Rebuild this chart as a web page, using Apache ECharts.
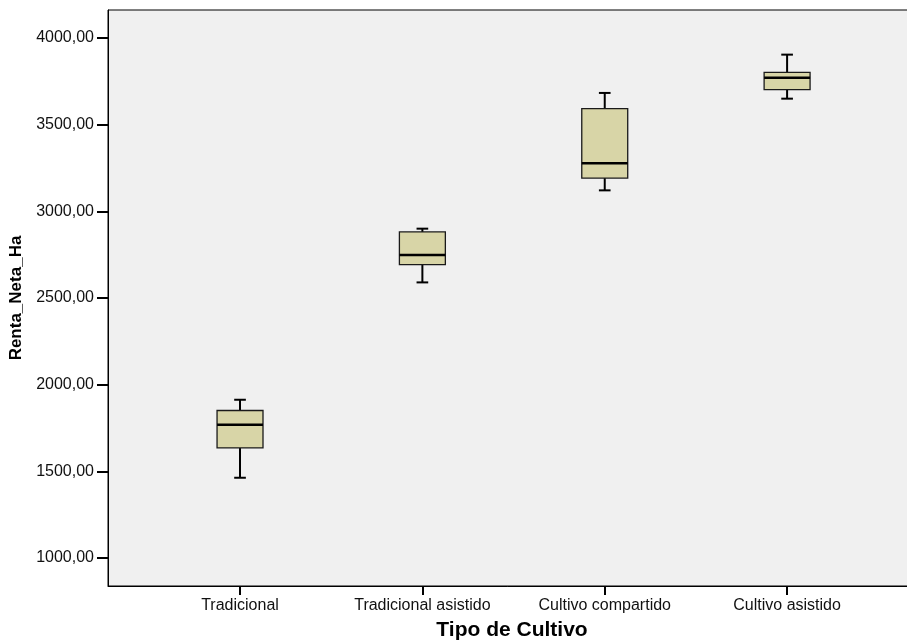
<!DOCTYPE html>
<html><head><meta charset="utf-8">
<script src="https://cdn.jsdelivr.net/npm/echarts@6/dist/echarts.min.js"></script>
<style>html,body{margin:0;padding:0;background:#fff}#c{width:907px;height:642px}</style>
</head><body><div id="c"></div>
<script>
const categories = ['Tradicional', 'Tradicional asistido', 'Cultivo compartido', 'Cultivo asistido'];
const xPositions = [1, 2, 3, 4];
const whiskerLow = [1463, 2590, 3121, 3650];
const q1 = [1635, 2692, 3192, 3702];
const median = [1769, 2748, 3277, 3771];
const q3 = [1851, 2881, 3592, 3802];
const whiskerHigh = [1913, 2900, 3683, 3904];
const yTicks = [1000, 1500, 2000, 2500, 3000, 3500, 4000];

const data = categories.map((c, i) => [xPositions[i], whiskerLow[i], q1[i], median[i], q3[i], whiskerHigh[i]]);

function renderItem(params, api) {
  const x = api.value(0);
  const pLow = api.coord([x, api.value(1)]);
  const pQ1 = api.coord([x, api.value(2)]);
  const pMed = api.coord([x, api.value(3)]);
  const pQ3 = api.coord([x, api.value(4)]);
  const pHigh = api.coord([x, api.value(5)]);
  const bw = api.size([0.252, 0])[0];
  const cw = api.size([0.064, 0])[0];
  const cx = pMed[0];
  const ls = { stroke: '#000', lineWidth: 2 };
  return {
    type: 'group',
    children: [
      { type: 'line', shape: { x1: cx, y1: pHigh[1], x2: cx, y2: pQ3[1] }, style: ls },
      { type: 'line', shape: { x1: cx, y1: pQ1[1], x2: cx, y2: pLow[1] }, style: ls },
      { type: 'line', shape: { x1: cx - cw / 2, y1: pHigh[1], x2: cx + cw / 2, y2: pHigh[1] }, style: ls },
      { type: 'line', shape: { x1: cx - cw / 2, y1: pLow[1], x2: cx + cw / 2, y2: pLow[1] }, style: ls },
      { type: 'rect', shape: { x: cx - bw / 2, y: pQ3[1], width: bw, height: pQ1[1] - pQ3[1] },
        style: { fill: '#D8D5A7', stroke: '#1a1a1a', lineWidth: 1.3 } },
      { type: 'line', shape: { x1: cx - bw / 2, y1: pMed[1], x2: cx + bw / 2, y2: pMed[1] },
        style: { stroke: '#000', lineWidth: 2.6 } }
    ]
  };
}

const chart = echarts.init(document.getElementById('c'), null, { renderer: 'canvas' });
chart.setOption({
  backgroundColor: '#ffffff',
  animation: false,
  textStyle: { fontFamily: 'Liberation Sans' },
  grid: { left: 108, right: -1, top: 10, bottom: 56, containLabel: false, outerBoundsMode: 'none',
    show: true, backgroundColor: '#F0F0F0', borderColor: '#000', borderWidth: 1 },
  xAxis: {
    type: 'value', min: 0.276, max: 4.663,
    name: 'Tipo de Cultivo', nameLocation: 'middle', nameGap: 34,
    nameTextStyle: { fontSize: 21, fontWeight: 'bold', color: '#000', fontFamily: 'Liberation Sans', padding: [0, 0, 0, 8] },
    axisLine: { show: true, lineStyle: { color: '#000', width: 1 } },
    axisTick: { show: true, length: 9, customValues: xPositions, lineStyle: { color: '#000', width: 2 } },
    axisLabel: { customValues: xPositions, margin: 12, fontSize: 16, color: '#111',
      formatter: v => categories[Math.round(v) - 1] || '' },
    splitLine: { show: false }
  },
  yAxis: {
    type: 'value', min: 838.5, max: 4161.5,
    name: 'Renta_Neta_Ha', nameLocation: 'middle', nameGap: 75, nameRotate: 90,
    nameTextStyle: { fontSize: 17, fontWeight: 'bold', color: '#000', fontFamily: 'Liberation Sans' },
    axisLine: { show: true, lineStyle: { color: '#000', width: 1 } },
    axisTick: { show: true, length: 11, customValues: yTicks, lineStyle: { color: '#000', width: 2 } },
    axisLabel: { customValues: yTicks, margin: 14, fontSize: 16, color: '#111',
      formatter: v => v.toFixed(2).replace('.', ',') },
    splitLine: { show: false }
  },
  series: [{
    type: 'custom',
    renderItem: renderItem,
    encode: { x: 0, y: [1, 2, 3, 4, 5] },
    data: data
  }]
});
</script></body></html>
